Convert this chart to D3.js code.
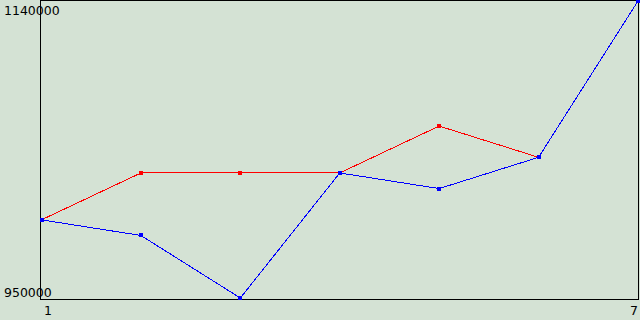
<!DOCTYPE html>
<html>
<head>
<meta charset="utf-8">
<script src="https://d3js.org/d3.v7.min.js"></script>
<style>
body, html { margin: 0; padding: 0; border: 0; background: #d4e2d4; }
svg { display: block; }
.lbl { font-family: "DejaVu Sans", sans-serif; font-size: 12.5px; fill: #000; }
</style>
</head>
<body>
<svg id="chart" width="640" height="320"></svg>
<script>
var xs = [1, 2, 3, 4, 5, 6, 7];
var redVals = [1000000, 1030000, 1030000, 1030000, 1060000, 1040000, 1140000];
var blueVals = [1000000, 990000, 950000, 1030000, 1020000, 1040000, 1140000];
var yTicks = ["1140000", "950000"];
var xTicks = ["1", "7"];

var svg = d3.select("#chart");
var w = 640, h = 320;

svg.append("rect").attr("width", w).attr("height", h).attr("fill", "#d4e2d4");

var x = d3.scaleLinear().domain([1, 7]).range([41.5, 638]);
var y = d3.scaleLinear().domain([950000, 1140000]).range([298, 1]);

// frame
svg.append("rect")
  .attr("x", 40.5).attr("y", 0.5)
  .attr("width", 598).attr("height", 298.5)
  .attr("fill", "none").attr("stroke", "#000").attr("stroke-width", 1)
  .attr("shape-rendering", "crispEdges");

var line = d3.line()
  .x(function(d, i) { return x(xs[i]); })
  .y(function(d) { return y(d); });

function series(vals, color) {
  svg.append("path")
    .datum(vals)
    .attr("d", line)
    .attr("fill", "none")
    .attr("stroke", color)
    .attr("stroke-width", 1)
    .attr("shape-rendering", "crispEdges");
  svg.selectAll(null)
    .data(vals)
    .enter().append("rect")
    .attr("x", function(d, i) { return Math.round(x(xs[i]) - 2); })
    .attr("y", function(d) { return Math.round(y(d)) - 2; })
    .attr("width", 4).attr("height", 4)
    .attr("fill", color);
}

series(redVals, "#ff0000");
series(blueVals, "#0000ff");

// labels
svg.append("text").attr("class", "lbl")
  .attr("x", 4).attr("y", 15).text(yTicks[0]);
svg.append("text").attr("class", "lbl")
  .attr("x", 4).attr("y", 297).text(yTicks[1]);
svg.append("text").attr("class", "lbl")
  .attr("x", 44).attr("y", 315).text(xTicks[0]);
svg.append("text").attr("class", "lbl")
  .attr("x", 638).attr("y", 315).attr("text-anchor", "end").text(xTicks[1]);
</script>
</body>
</html>
